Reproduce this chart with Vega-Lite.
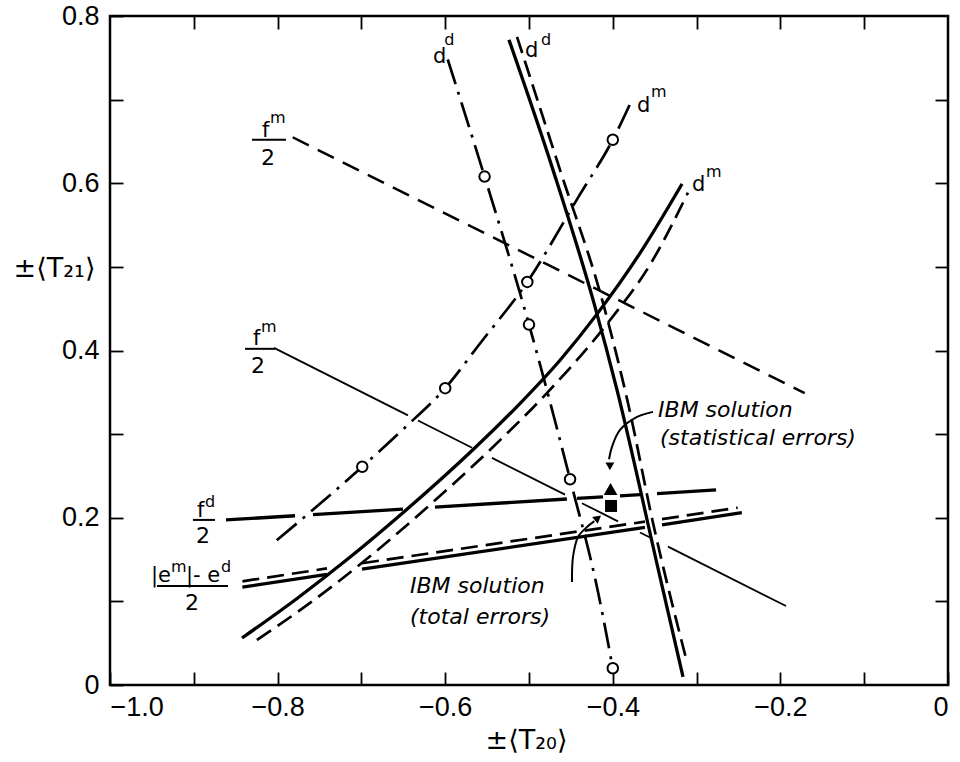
{
  "$schema": "https://vega.github.io/schema/vega-lite/v6.json",
  "width": 838,
  "height": 669,
  "autosize": {"type": "none"},
  "padding": {"left": 110, "top": 16, "right": 12, "bottom": 77},
  "background": "white",
  "config": {
    "view": {"stroke": "black", "strokeWidth": 2.5},
    "axis": {
      "domain": false, "grid": false, "tickColor": "black", "tickWidth": 1.8,
      "labelFont": "Liberation Sans", "labelFontSize": 27, "labelColor": "black",
      "titleFont": "DejaVu Sans", "titleFontSize": 27, "titleFontWeight": "normal", "titleColor": "black"
    }
  },
  "datasets": {
    "lines": [
      {"s": "fm_dashed", "g": "a1", "o": 1, "x": -0.782, "y": 0.655},
      {"s": "fm_dashed", "g": "a1", "o": 2, "x": -0.171, "y": 0.349},

      {"s": "fm_solid", "g": "b1", "o": 1, "x": -0.8043, "y": 0.4031},
      {"s": "fm_solid", "g": "b1", "o": 2, "x": -0.6444, "y": 0.3224},
      {"s": "fm_solid", "g": "b2", "o": 1, "x": -0.6325, "y": 0.3163},
      {"s": "fm_solid", "g": "b2", "o": 2, "x": -0.5680, "y": 0.2837},
      {"s": "fm_solid", "g": "b3", "o": 1, "x": -0.5442, "y": 0.2716},
      {"s": "fm_solid", "g": "b3", "o": 2, "x": -0.4570, "y": 0.2276},
      {"s": "fm_solid", "g": "b4", "o": 1, "x": -0.4368, "y": 0.2174},
      {"s": "fm_solid", "g": "b4", "o": 2, "x": -0.3938, "y": 0.1957},
      {"s": "fm_solid", "g": "b5", "o": 1, "x": -0.3675, "y": 0.1824},
      {"s": "fm_solid", "g": "b5", "o": 2, "x": -0.3556, "y": 0.1764},
      {"s": "fm_solid", "g": "b6", "o": 1, "x": -0.3341, "y": 0.1655},
      {"s": "fm_solid", "g": "b6", "o": 2, "x": -0.1933, "y": 0.0945},

      {"s": "thick", "g": "c1", "o": 1, "x": -0.8616, "y": 0.1974},
      {"s": "thick", "g": "c1", "o": 2, "x": -0.7792, "y": 0.2024},
      {"s": "thick", "g": "c2", "o": 1, "x": -0.7578, "y": 0.2037},
      {"s": "thick", "g": "c2", "o": 2, "x": -0.6504, "y": 0.2103},
      {"s": "thick", "g": "c3", "o": 1, "x": -0.6122, "y": 0.2127},
      {"s": "thick", "g": "c3", "o": 2, "x": -0.4547, "y": 0.2224},
      {"s": "thick", "g": "c4", "o": 1, "x": -0.4427, "y": 0.2231},
      {"s": "thick", "g": "c4", "o": 2, "x": -0.4117, "y": 0.2250},
      {"s": "thick", "g": "c5", "o": 1, "x": -0.3914, "y": 0.2262},
      {"s": "thick", "g": "c5", "o": 2, "x": -0.3675, "y": 0.2276},
      {"s": "thick", "g": "c6", "o": 1, "x": -0.3473, "y": 0.2289},
      {"s": "thick", "g": "c6", "o": 2, "x": -0.2768, "y": 0.2333},

      {"s": "thick", "g": "d1", "o": 1, "x": -0.842, "y": 0.117},
      {"s": "thick", "g": "d1", "o": 2, "x": -0.7411, "y": 0.1323},
      {"s": "thick", "g": "d2", "o": 1, "x": -0.6993, "y": 0.1385},
      {"s": "thick", "g": "d2", "o": 2, "x": -0.3616, "y": 0.1885},
      {"s": "thick", "g": "d3", "o": 1, "x": -0.3413, "y": 0.1916},
      {"s": "thick", "g": "d3", "o": 2, "x": -0.246, "y": 0.206},

      {"s": "dashed", "g": "e1", "o": 1, "x": -0.842, "y": 0.124},
      {"s": "dashed", "g": "e1", "o": 2, "x": -0.7411, "y": 0.1394},
      {"s": "dashed", "g": "e2", "o": 1, "x": -0.6993, "y": 0.1456},
      {"s": "dashed", "g": "e2", "o": 2, "x": -0.3616, "y": 0.1953},
      {"s": "dashed", "g": "e3", "o": 1, "x": -0.3413, "y": 0.1983},
      {"s": "dashed", "g": "e3", "o": 2, "x": -0.251, "y": 0.212},

      {"s": "thick", "g": "f1", "o": 1, "x": -0.8425, "y": 0.0562},
      {"s": "thick", "g": "f1", "o": 2, "x": -0.7768, "y": 0.1035},
      {"s": "thick", "g": "f1", "o": 3, "x": -0.7160, "y": 0.1509},
      {"s": "thick", "g": "f1", "o": 4, "x": -0.6504, "y": 0.2060},
      {"s": "thick", "g": "f1", "o": 5, "x": -0.5704, "y": 0.2780},
      {"s": "thick", "g": "f1", "o": 6, "x": -0.5143, "y": 0.3330},
      {"s": "thick", "g": "f1", "o": 7, "x": -0.4630, "y": 0.3884},
      {"s": "thick", "g": "f1", "o": 8, "x": -0.4189, "y": 0.4435},
      {"s": "thick", "g": "f1", "o": 9, "x": -0.3675, "y": 0.5165},
      {"s": "thick", "g": "f1", "o": 10, "x": -0.3174, "y": 0.5992},

      {"s": "dashed", "g": "g1", "o": 1, "x": -0.8246, "y": 0.0538},
      {"s": "dashed", "g": "g1", "o": 2, "x": -0.7613, "y": 0.0981},
      {"s": "dashed", "g": "g1", "o": 3, "x": -0.6897, "y": 0.1539},
      {"s": "dashed", "g": "g1", "o": 4, "x": -0.6181, "y": 0.2155},
      {"s": "dashed", "g": "g1", "o": 5, "x": -0.5430, "y": 0.2846},
      {"s": "dashed", "g": "g1", "o": 6, "x": -0.4809, "y": 0.3467},
      {"s": "dashed", "g": "g1", "o": 7, "x": -0.4069, "y": 0.4318},
      {"s": "dashed", "g": "g1", "o": 8, "x": -0.3556, "y": 0.5026},
      {"s": "dashed", "g": "g1", "o": 9, "x": -0.3103, "y": 0.5887},

      {"s": "thick", "g": "h1", "o": 1, "x": -0.5239, "y": 0.7715},
      {"s": "thick", "g": "h1", "o": 2, "x": -0.4714, "y": 0.6160},
      {"s": "thick", "g": "h1", "o": 3, "x": -0.4212, "y": 0.4522},
      {"s": "thick", "g": "h1", "o": 4, "x": -0.3950, "y": 0.3529},
      {"s": "thick", "g": "h1", "o": 5, "x": -0.3437, "y": 0.1292},
      {"s": "thick", "g": "h1", "o": 6, "x": -0.3162, "y": 0.0096},

      {"s": "dashed", "g": "i1", "o": 1, "x": -0.5143, "y": 0.7751},
      {"s": "dashed", "g": "i1", "o": 2, "x": -0.4630, "y": 0.6160},
      {"s": "dashed", "g": "i1", "o": 3, "x": -0.4117, "y": 0.4569},
      {"s": "dashed", "g": "i1", "o": 4, "x": -0.3819, "y": 0.3373},
      {"s": "dashed", "g": "i1", "o": 5, "x": -0.3520, "y": 0.1938},
      {"s": "dashed", "g": "i1", "o": 6, "x": -0.3115, "y": 0.0275},

      {"s": "dashdot", "g": "j1", "o": 1, "x": -0.597, "y": 0.748},
      {"s": "dashdot", "g": "j1", "o": 2, "x": -0.553, "y": 0.608},
      {"s": "dashdot", "g": "j1", "o": 3, "x": -0.500, "y": 0.431},
      {"s": "dashdot", "g": "j1", "o": 4, "x": -0.451, "y": 0.246},
      {"s": "dashdot", "g": "j1", "o": 5, "x": -0.418, "y": 0.113},
      {"s": "dashdot", "g": "j1", "o": 6, "x": -0.400, "y": 0.020},

      {"s": "dashdot", "g": "k1", "o": 1, "x": -0.801, "y": 0.173},
      {"s": "dashdot", "g": "k1", "o": 2, "x": -0.699, "y": 0.261},
      {"s": "dashdot", "g": "k1", "o": 3, "x": -0.650, "y": 0.306},
      {"s": "dashdot", "g": "k1", "o": 4, "x": -0.600, "y": 0.355},
      {"s": "dashdot", "g": "k1", "o": 5, "x": -0.558, "y": 0.409},
      {"s": "dashdot", "g": "k1", "o": 6, "x": -0.502, "y": 0.482},
      {"s": "dashdot", "g": "k1", "o": 7, "x": -0.439, "y": 0.587},
      {"s": "dashdot", "g": "k1", "o": 8, "x": -0.400, "y": 0.652},
      {"s": "dashdot", "g": "k1", "o": 9, "x": -0.377, "y": 0.700},

      {"s": "arrow", "g": "m1", "o": 1, "x": -0.352, "y": 0.3266},
      {"s": "arrow", "g": "m1", "o": 2, "x": -0.371, "y": 0.3206},
      {"s": "arrow", "g": "m1", "o": 3, "x": -0.3914, "y": 0.305},
      {"s": "arrow", "g": "m1", "o": 4, "x": -0.401, "y": 0.2847},
      {"s": "arrow", "g": "m1", "o": 5, "x": -0.4045, "y": 0.2700},

      {"s": "arrow", "g": "n1", "o": 1, "x": -0.4487, "y": 0.1232},
      {"s": "arrow", "g": "n1", "o": 2, "x": -0.4475, "y": 0.1531},
      {"s": "arrow", "g": "n1", "o": 3, "x": -0.4415, "y": 0.1770},
      {"s": "arrow", "g": "n1", "o": 4, "x": -0.4308, "y": 0.1890},
      {"s": "arrow", "g": "n1", "o": 5, "x": -0.4220, "y": 0.1960}
    ],
    "circles": [
      {"x": -0.699, "y": 0.261}, {"x": -0.600, "y": 0.355}, {"x": -0.502, "y": 0.482}, {"x": -0.400, "y": 0.652},
      {"x": -0.553, "y": 0.608}, {"x": -0.500, "y": 0.431}, {"x": -0.451, "y": 0.246}, {"x": -0.400, "y": 0.020}
    ],
    "base": [
      {"x": -0.6146, "y": 0.744, "t": "d"},
      {"x": -0.5048, "y": 0.7512, "t": "d"},
      {"x": -0.3711, "y": 0.6854, "t": "d"},
      {"x": -0.3055, "y": 0.5909, "t": "d"},
      {"x": -0.8186, "y": 0.6555, "t": "f"},
      {"x": -0.8294, "y": 0.4067, "t": "f"},
      {"x": -0.8962, "y": 0.2010, "t": "f"},
      {"x": -0.9511, "y": 0.1232, "t": "|e"},
      {"x": -0.9093, "y": 0.1232, "t": "|- e"}
    ],
    "sup": [
      {"x": -0.6010, "y": 0.7650, "t": "d"},
      {"x": -0.4857, "y": 0.7650, "t": "d"},
      {"x": -0.3544, "y": 0.7033, "t": "m"},
      {"x": -0.2888, "y": 0.6077, "t": "m"},
      {"x": -0.8091, "y": 0.6722, "t": "m"},
      {"x": -0.8198, "y": 0.4222, "t": "m"},
      {"x": -0.8866, "y": 0.2129, "t": "d"},
      {"x": -0.9272, "y": 0.1352, "t": "m"},
      {"x": -0.8675, "y": 0.1352, "t": "d"}
    ],
    "denom": [
      {"x": -0.8115, "y": 0.622, "t": "2"},
      {"x": -0.8234, "y": 0.3732, "t": "2"},
      {"x": -0.889, "y": 0.170, "t": "2"},
      {"x": -0.9021, "y": 0.0897, "t": "2"}
    ],
    "bars": [
      {"x": -0.8305, "x2": -0.7900, "y": 0.652},
      {"x": -0.8389, "x2": -0.8031, "y": 0.402},
      {"x": -0.901, "x2": -0.8747, "y": 0.1974},
      {"x": -0.9439, "x2": -0.8592, "y": 0.1184}
    ],
    "notes": [
      {"x": -0.346, "y": 0.329, "t": "IBM  solution"},
      {"x": -0.3437, "y": 0.2955, "t": "(statistical  errors)"},
      {"x": -0.642, "y": 0.118, "t": "IBM  solution"},
      {"x": -0.642, "y": 0.081, "t": "(total  errors)"}
    ],
    "sol_tri": [{"x": -0.4027, "y": 0.2344}],
    "sol_sq": [{"x": -0.4021, "y": 0.2141}],
    "head_down": [{"x": -0.4035, "y": 0.2615}],
    "head_up": [{"x": -0.4177, "y": 0.1998}]
  },
  "layer": [
    {
      "data": {"name": "lines"},
      "transform": [{"filter": "datum.s == 'fm_dashed'"}],
      "mark": {"type": "line", "color": "black", "strokeWidth": 2.5, "strokeDash": [18, 10]},
      "encoding": {
        "x": {"field": "x", "type": "quantitative", "scale": {"domain": [-1, 0], "nice": false, "zero": false},
          "axis": {"orient": "bottom", "values": [-1, -0.9, -0.8, -0.7, -0.6, -0.5, -0.4, -0.3, -0.2, -0.1, 0],
            "tickSize": -13, "labelPadding": 22,
            "labelExpr": "round(datum.value*10) % 2 != 0 ? '' : (datum.value == 0 ? '0' : format(datum.value, '.1f'))",
            "title": "±⟨T₂₀⟩", "titleX": 416, "titleY": 55, "titleAlign": "center", "titleBaseline": "middle"}},
        "y": {"field": "y", "type": "quantitative", "scale": {"domain": [0, 0.8], "nice": false, "zero": false},
          "axis": {"orient": "left", "values": [0, 0.1, 0.2, 0.3, 0.4, 0.5, 0.6, 0.7, 0.8],
            "tickSize": -13, "labelPadding": 24,
            "labelExpr": "round(datum.value*10) % 2 != 0 ? '' : (datum.value == 0 ? '0' : format(datum.value, '.1f'))",
            "title": "±⟨T₂₁⟩", "titleAngle": 0, "titleX": -56, "titleY": 252, "titleAlign": "center", "titleBaseline": "middle"}},
        "order": {"field": "o"}
      }
    },
    {
      "data": {"name": "lines"},
      "transform": [{"filter": "datum.s == 'fm_solid'"}],
      "mark": {"type": "line", "color": "black", "strokeWidth": 1.8},
      "encoding": {
        "x": {"field": "x", "type": "quantitative", "scale": {"domain": [-1, 0], "nice": false, "zero": false},
          "axis": {"orient": "top", "values": [-0.9, -0.8, -0.7, -0.6, -0.5, -0.4, -0.3, -0.2, -0.1], "tickSize": -13, "labels": false, "title": null}},
        "y": {"field": "y", "type": "quantitative", "scale": {"domain": [0, 0.8], "nice": false, "zero": false},
          "axis": {"orient": "right", "values": [0.1, 0.2, 0.3, 0.4, 0.5, 0.6, 0.7], "tickSize": -13, "labels": false, "title": null}},
        "detail": {"field": "g"},
        "order": {"field": "o"}
      }
    },
    {
      "data": {"name": "lines"},
      "transform": [{"filter": "datum.s == 'thick'"}],
      "mark": {"type": "line", "color": "black", "strokeWidth": 3.3, "interpolate": "monotone"},
      "encoding": {
        "x": {"field": "x", "type": "quantitative", "scale": {"domain": [-1, 0], "nice": false, "zero": false}, "axis": null},
        "y": {"field": "y", "type": "quantitative", "scale": {"domain": [0, 0.8], "nice": false, "zero": false}, "axis": null},
        "detail": {"field": "g"},
        "order": {"field": "o"}
      }
    },
    {
      "data": {"name": "lines"},
      "transform": [{"filter": "datum.s == 'dashed'"}],
      "mark": {"type": "line", "color": "black", "strokeWidth": 2.7, "strokeDash": [17, 8], "interpolate": "monotone"},
      "encoding": {
        "x": {"field": "x", "type": "quantitative", "scale": {"domain": [-1, 0], "nice": false, "zero": false}, "axis": null},
        "y": {"field": "y", "type": "quantitative", "scale": {"domain": [0, 0.8], "nice": false, "zero": false}, "axis": null},
        "detail": {"field": "g"},
        "order": {"field": "o"}
      }
    },
    {
      "data": {"name": "lines"},
      "transform": [{"filter": "datum.s == 'dashdot'"}],
      "mark": {"type": "line", "color": "black", "strokeWidth": 2.7, "strokeDash": [26, 8, 3, 8], "interpolate": "monotone"},
      "encoding": {
        "x": {"field": "x", "type": "quantitative", "scale": {"domain": [-1, 0], "nice": false, "zero": false}, "axis": null},
        "y": {"field": "y", "type": "quantitative", "scale": {"domain": [0, 0.8], "nice": false, "zero": false}, "axis": null},
        "detail": {"field": "g"},
        "order": {"field": "o"}
      }
    },
    {
      "data": {"name": "lines"},
      "transform": [{"filter": "datum.s == 'arrow'"}],
      "mark": {"type": "line", "color": "black", "strokeWidth": 2, "interpolate": "catmull-rom"},
      "encoding": {
        "x": {"field": "x", "type": "quantitative", "scale": {"domain": [-1, 0], "nice": false, "zero": false}, "axis": null},
        "y": {"field": "y", "type": "quantitative", "scale": {"domain": [0, 0.8], "nice": false, "zero": false}, "axis": null},
        "detail": {"field": "g"},
        "order": {"field": "o"}
      }
    },
    {
      "data": {"name": "circles"},
      "mark": {"type": "point", "shape": "circle", "size": 110, "filled": true, "fill": "white", "stroke": "black", "strokeWidth": 2, "opacity": 1},
      "encoding": {
        "x": {"field": "x", "type": "quantitative", "scale": {"domain": [-1, 0], "nice": false, "zero": false}, "axis": null},
        "y": {"field": "y", "type": "quantitative", "scale": {"domain": [0, 0.8], "nice": false, "zero": false}, "axis": null}
      }
    },
    {
      "data": {"name": "sol_tri"},
      "mark": {"type": "point", "shape": "triangle-up", "size": 190, "filled": true, "color": "black", "opacity": 1},
      "encoding": {
        "x": {"field": "x", "type": "quantitative", "scale": {"domain": [-1, 0], "nice": false, "zero": false}, "axis": null},
        "y": {"field": "y", "type": "quantitative", "scale": {"domain": [0, 0.8], "nice": false, "zero": false}, "axis": null}
      }
    },
    {
      "data": {"name": "sol_sq"},
      "mark": {"type": "point", "shape": "square", "size": 144, "filled": true, "color": "black", "opacity": 1},
      "encoding": {
        "x": {"field": "x", "type": "quantitative", "scale": {"domain": [-1, 0], "nice": false, "zero": false}, "axis": null},
        "y": {"field": "y", "type": "quantitative", "scale": {"domain": [0, 0.8], "nice": false, "zero": false}, "axis": null}
      }
    },
    {
      "data": {"name": "head_down"},
      "mark": {"type": "point", "shape": "triangle-down", "size": 80, "filled": true, "color": "black", "opacity": 1},
      "encoding": {
        "x": {"field": "x", "type": "quantitative", "scale": {"domain": [-1, 0], "nice": false, "zero": false}, "axis": null},
        "y": {"field": "y", "type": "quantitative", "scale": {"domain": [0, 0.8], "nice": false, "zero": false}, "axis": null}
      }
    },
    {
      "data": {"name": "head_up"},
      "mark": {"type": "point", "shape": "triangle-up", "size": 80, "filled": true, "color": "black", "opacity": 1, "angle": 51},
      "encoding": {
        "x": {"field": "x", "type": "quantitative", "scale": {"domain": [-1, 0], "nice": false, "zero": false}, "axis": null},
        "y": {"field": "y", "type": "quantitative", "scale": {"domain": [0, 0.8], "nice": false, "zero": false}, "axis": null}
      }
    },
    {
      "data": {"name": "bars"},
      "mark": {"type": "rule", "color": "black", "strokeWidth": 2},
      "encoding": {
        "x": {"field": "x", "type": "quantitative", "scale": {"domain": [-1, 0], "nice": false, "zero": false}, "axis": null},
        "x2": {"field": "x2"},
        "y": {"field": "y", "type": "quantitative", "scale": {"domain": [0, 0.8], "nice": false, "zero": false}, "axis": null}
      }
    },
    {
      "data": {"name": "base"},
      "mark": {"type": "text", "font": "DejaVu Sans", "fontSize": 21, "align": "left", "baseline": "alphabetic", "color": "black"},
      "encoding": {
        "x": {"field": "x", "type": "quantitative", "scale": {"domain": [-1, 0], "nice": false, "zero": false}, "axis": null},
        "y": {"field": "y", "type": "quantitative", "scale": {"domain": [0, 0.8], "nice": false, "zero": false}, "axis": null},
        "text": {"field": "t"}
      }
    },
    {
      "data": {"name": "sup"},
      "mark": {"type": "text", "font": "DejaVu Sans", "fontSize": 16, "align": "left", "baseline": "alphabetic", "color": "black"},
      "encoding": {
        "x": {"field": "x", "type": "quantitative", "scale": {"domain": [-1, 0], "nice": false, "zero": false}, "axis": null},
        "y": {"field": "y", "type": "quantitative", "scale": {"domain": [0, 0.8], "nice": false, "zero": false}, "axis": null},
        "text": {"field": "t"}
      }
    },
    {
      "data": {"name": "denom"},
      "mark": {"type": "text", "font": "DejaVu Sans", "fontSize": 22, "align": "center", "baseline": "alphabetic", "color": "black"},
      "encoding": {
        "x": {"field": "x", "type": "quantitative", "scale": {"domain": [-1, 0], "nice": false, "zero": false}, "axis": null},
        "y": {"field": "y", "type": "quantitative", "scale": {"domain": [0, 0.8], "nice": false, "zero": false}, "axis": null},
        "text": {"field": "t"}
      }
    },
    {
      "data": {"name": "notes"},
      "mark": {"type": "text", "font": "DejaVu Sans", "fontSize": 22, "fontStyle": "italic", "align": "left", "baseline": "middle", "color": "black"},
      "encoding": {
        "x": {"field": "x", "type": "quantitative", "scale": {"domain": [-1, 0], "nice": false, "zero": false}, "axis": null},
        "y": {"field": "y", "type": "quantitative", "scale": {"domain": [0, 0.8], "nice": false, "zero": false}, "axis": null},
        "text": {"field": "t"}
      }
    }
  ],
  "resolve": {"axis": {"x": "independent", "y": "independent"}}
}
